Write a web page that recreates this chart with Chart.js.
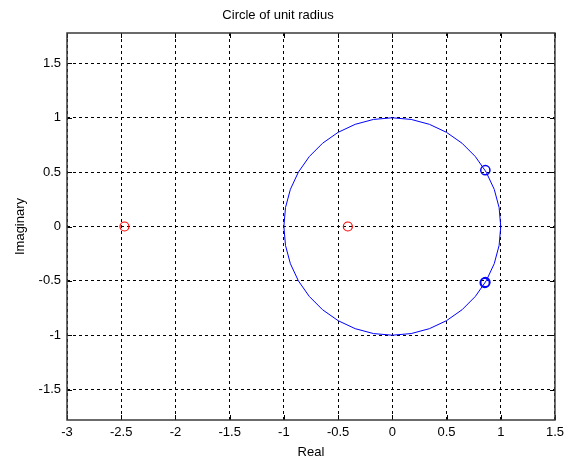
<!DOCTYPE html>
<html>
<head>
<meta charset="utf-8">
<script src="https://cdn.jsdelivr.net/npm/chart.js@4/dist/chart.umd.min.js"></script>
<style>
  html, body { margin: 0; padding: 0; background: #ffffff; }
  #wrap { width: 569px; height: 460px; }
</style>
</head>
<body>
<div id="wrap"><canvas id="c" width="569" height="460"></canvas></div>
<script>
// Unit circle sampled every 10 degrees
const circleX = [1, 0.985, 0.940, 0.866, 0.766, 0.643, 0.5, 0.342, 0.174, 0, -0.174, -0.342, -0.5, -0.643, -0.766, -0.866, -0.940, -0.985, -1, -0.985, -0.940, -0.866, -0.766, -0.643, -0.5, -0.342, -0.174, 0, 0.174, 0.342, 0.5, 0.643, 0.766, 0.866, 0.940, 0.985, 1];
const circleY = [0, 0.174, 0.342, 0.5, 0.643, 0.766, 0.866, 0.940, 0.985, 1, 0.985, 0.940, 0.866, 0.766, 0.643, 0.5, 0.342, 0.174, 0, -0.174, -0.342, -0.5, -0.643, -0.766, -0.866, -0.940, -0.985, -1, -0.985, -0.940, -0.866, -0.766, -0.643, -0.5, -0.342, -0.174, 0];
// Zeros (red o)
const zerosX = [-2.47, -0.41];
const zerosY = [0, 0];
// Poles (blue o)
const polesX = [0.858, 0.858, 0.853];
const polesY = [0.518, -0.512, -0.518];
// Axis ticks
const xTicks = [-3, -2.5, -2, -1.5, -1, -0.5, 0, 0.5, 1, 1.5];
const yTicks = [-1.5, -1, -0.5, 0, 0.5, 1, 1.5];
const xRange = [-3, 1.5];
const yRange = [-1.78, 1.78];

const toPts = (xs, ys) => xs.map((x, i) => ({ x: x, y: ys[i] }));
const FONT = "'Liberation Sans', Arial, sans-serif";

const boxPlugin = {
  id: 'box',
  afterDatasetsDraw(chart) {
    const { ctx, chartArea: a, scales } = chart;
    ctx.save();
    ctx.strokeStyle = '#000000';
    ctx.lineWidth = 1;
    ctx.setLineDash([]);
    // inward tick marks
    const tl = 5;
    ctx.beginPath();
    xTicks.forEach(v => {
      const px = Math.round(scales.x.getPixelForValue(v)) + 0.5;
      ctx.moveTo(px, a.bottom); ctx.lineTo(px, a.bottom - tl);
      ctx.moveTo(px, a.top); ctx.lineTo(px, a.top + tl);
    });
    yTicks.forEach(v => {
      const py = Math.round(scales.y.getPixelForValue(v)) + 0.5;
      ctx.moveTo(a.left, py); ctx.lineTo(a.left + tl, py);
      ctx.moveTo(a.right, py); ctx.lineTo(a.right - tl, py);
    });
    ctx.stroke();
    ctx.strokeStyle = '#3a3a3a';
    ctx.lineWidth = 1.5;
    ctx.strokeRect(a.left, a.top, a.right - a.left, a.bottom - a.top);
    ctx.restore();
  }
};

new Chart(document.getElementById('c'), {
  type: 'scatter',
  data: {
    datasets: [
      {
        label: 'circle',
        data: toPts(circleX, circleY),
        showLine: true,
        borderColor: '#0000ff',
        borderWidth: 1,
        pointRadius: 0,
        fill: false,
        tension: 0
      },
      {
        label: 'zeros',
        data: toPts(zerosX, zerosY),
        pointStyle: 'circle',
        pointRadius: 4.5,
        pointBorderColor: '#ff0000',
        pointBackgroundColor: 'rgba(0,0,0,0)',
        pointBorderWidth: 1.2,
        showLine: false
      },
      {
        label: 'poles',
        data: toPts(polesX, polesY),
        pointStyle: 'circle',
        pointRadius: 4.6,
        pointBorderColor: '#0000ff',
        pointBackgroundColor: 'rgba(0,0,0,0)',
        pointBorderWidth: 1.5,
        showLine: false
      }
    ]
  },
  options: {
    responsive: false,
    animation: false,
    events: [],
    layout: { padding: { left: 0, right: 13, top: 0, bottom: 0 } },
    plugins: {
      legend: { display: false },
      tooltip: { enabled: false },
      title: {
        display: true,
        text: 'Circle of unit radius',
        color: '#000000',
        font: { family: FONT, size: 13, weight: 'normal', lineHeight: 1.2 },
        padding: { top: 8, bottom: 9.4 }
      }
    },
    scales: {
      x: {
        type: 'linear',
        min: xRange[0],
        max: xRange[1],
        afterFit: s => { s.height = 40; },
        afterBuildTicks: s => { s.ticks = xTicks.map(v => ({ value: v })); },
        ticks: {
          stepSize: 0.5,
          includeBounds: false,
          padding: 5,
          color: '#000000',
          font: { family: FONT, size: 13 },
          maxRotation: 0,
          autoSkip: false,
          callback: v => String(+Number(v).toFixed(2))
        },
        grid: { color: '#000000', lineWidth: 1, drawTicks: false },
        border: { display: false, dash: [3, 3] },
        title: {
          display: true,
          text: 'Real',
          color: '#000000',
          font: { family: FONT, size: 13, lineHeight: 1.2 },
          padding: { top: 0, bottom: 0 }
        }
      },
      y: {
        type: 'linear',
        min: yRange[0],
        max: yRange[1],
        afterFit: s => { s.width = 67; },
        afterBuildTicks: s => { s.ticks = yTicks.map(v => ({ value: v })); },
        ticks: {
          stepSize: 0.5,
          includeBounds: false,
          padding: 6,
          color: '#000000',
          font: { family: FONT, size: 13 },
          autoSkip: false,
          callback: v => String(+Number(v).toFixed(2))
        },
        grid: { color: '#000000', lineWidth: 1, drawTicks: false },
        border: { display: false, dash: [3, 3] },
        title: {
          display: true,
          text: 'Imaginary',
          color: '#000000',
          font: { family: FONT, size: 13, lineHeight: 1.2 },
          padding: { top: 13, bottom: 0 }
        }
      }
    }
  },
  plugins: [boxPlugin]
});
</script>
</body>
</html>
